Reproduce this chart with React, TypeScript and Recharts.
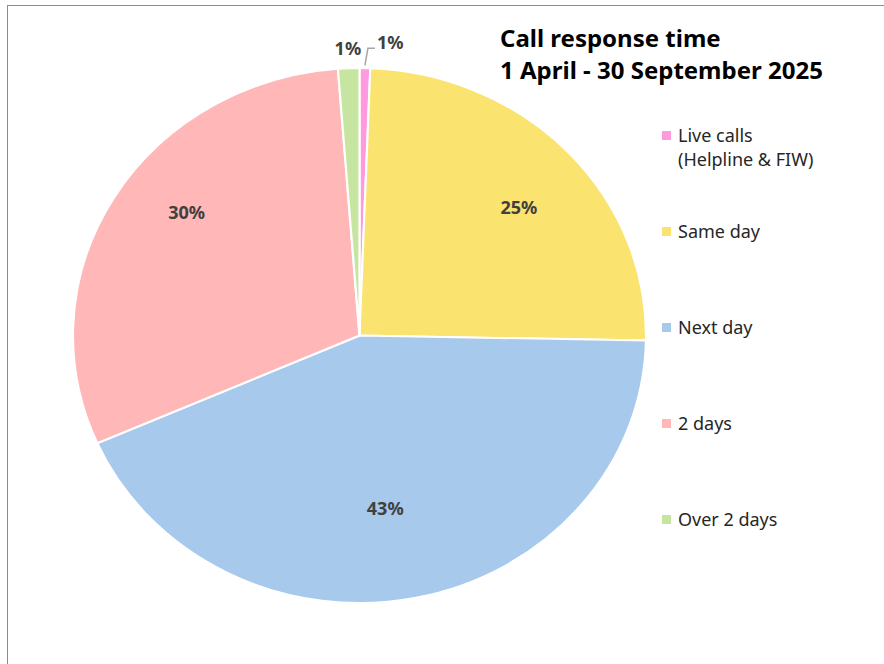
import { PieChart, Pie, Cell, Legend } from "recharts";

// share of calls, per cent
const categories = ["Live calls\n(Helpline & FIW)", "Same day", "Next day", "2 days", "Over 2 days"];
const shares = [0.6, 24.7, 43.1, 30.4, 1.2];
const colours = ["#FF9ADF", "#FAE36F", "#A7C9EC", "#FFB7B7", "#C6E5A0"];

const titleLines = ["Call response time", "1 April - 30 September 2025"];

const data = categories.map((name, i) => ({ name, value: shares[i] }));

const CX = 359.5;
const CY = 335.5;
const R = 267.5;
const SX = 286.5 / 267.5; // the pie is stretched sideways

const RAD = Math.PI / 180;

// where excel put the inside labels (fraction of radius, extra degrees clockwise)
const labelRadius = [1, 0.735, 0.65, 0.76, 1.075];
const labelTurn = [0, 2.6, 3.4, 6.5, 0];

const renderLabel = (props: any) => {
    const { cx, cy, midAngle, outerRadius, percent, index } = props;
    const txt = `${Math.round(percent * 100)}%`;
    const ang = (midAngle - labelTurn[index]) * RAD;
    const cos = Math.cos(-ang);
    const sin = Math.sin(-ang);
    const style = { fontSize: 18, fontWeight: 700, fill: "#404040" };

    if (index === 0) {
        // leader line for the tiny slice
        const x0 = cx + outerRadius * SX * cos;
        const y0 = cy + outerRadius * 1.01 * sin;
        const pts = `${x0},${y0} ${x0 + 3},${y0 - 17} ${x0 + 10},${y0 - 17}`;
        return (
            <g key={`lbl-${index}`}>
                <polyline points={pts} fill="none" stroke="#a6a6a6" strokeWidth={1.5} />
                <text x={x0 + 12} y={y0 - 23} textAnchor="start" dominantBaseline="central" {...style}>
                    {txt}
                </text>
            </g>
        );
    }
    const r = outerRadius * labelRadius[index];
    return (
        <text key={`lbl-${index}`} x={cx + r * SX * cos} y={cy + r * sin} textAnchor="middle" dominantBaseline="central" {...style}>
            {txt}
        </text>
    );
};

const renderLegend = (props: any) => {
    const payload = [...props.payload].sort(
        (a: any, b: any) => categories.indexOf(a.value) - categories.indexOf(b.value)
    );
    return (
        <div>
            {payload.map((entry: any, i: number) => (
                <div key={`leg-${i}`} style={{ height: 96, display: "flex", alignItems: "flex-start" }}>
                    <span
                        style={{
                            width: 9,
                            height: 9,
                            background: entry.color,
                            marginTop: 8,
                            marginRight: 7,
                            flexShrink: 0,
                        }}
                    />
                    <span style={{ whiteSpace: "pre", lineHeight: "24px", color: "#262626", fontSize: 18 }}>
                        {entry.value}
                    </span>
                </div>
            ))}
        </div>
    );
};

export default function App() {
    return (
        <div
            style={{
                position: "fixed",
                left: 0,
                top: 0,
                width: 884,
                height: 664,
                overflow: "hidden",
                background: "#fff",
                fontFamily: "'Noto Sans', sans-serif",
            }}
        >
            <style>{`.recharts-pie-sector { transform: scaleX(${SX}); transform-origin: ${CX}px ${CY}px; }`}</style>
            <div
                style={{
                    position: "absolute",
                    left: 7,
                    top: 5,
                    width: 920,
                    height: 700,
                    border: "1px solid #8c8c8c",
                }}
            />
            <div
                style={{
                    position: "absolute",
                    left: 500,
                    top: 22,
                    fontSize: 24,
                    fontWeight: 700,
                    lineHeight: "32px",
                    color: "#000",
                }}
            >
                {titleLines.map((t) => (
                    <div key={t}>{t}</div>
                ))}
            </div>
            <div style={{ position: "absolute", left: 0, top: 0 }}>
                <PieChart width={884} height={664} margin={{ top: 0, right: 0, bottom: 0, left: 0 }}>
                    <Pie
                        data={data}
                        dataKey="value"
                        nameKey="name"
                        cx={CX}
                        cy={CY}
                        outerRadius={R}
                        startAngle={90}
                        endAngle={-270}
                        stroke="#fff"
                        strokeWidth={2}
                        label={renderLabel}
                        labelLine={false}
                        isAnimationActive={false}
                    >
                        {data.map((d, i) => (
                            <Cell key={`cell-${i}`} fill={colours[i]} />
                        ))}
                    </Pie>
                    <Legend
                        layout="vertical"
                        content={renderLegend}
                        wrapperStyle={{ position: "absolute", left: 662, top: 123, width: 210 }}
                    />
                </PieChart>
            </div>
        </div>
    );
}
